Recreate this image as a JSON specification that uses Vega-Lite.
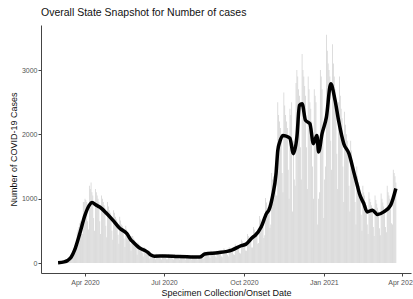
{
  "$schema": "https://vega.github.io/schema/vega-lite/v6.json",
  "autosize": "none",
  "width": 370,
  "height": 248,
  "padding": {"left": 41, "top": 25, "right": 2, "bottom": 26},
  "background": "white",
  "config": {
    "view": {"stroke": null},
    "font": "Liberation Sans",
    "axis": {"grid": false, "domainColor": "#444", "tickColor": "#444", "tickSize": 3, "labelColor": "#555", "labelFontSize": 7, "titleFontSize": 9, "titleFontWeight": "normal", "titleColor": "#111", "labelFont": "Liberation Sans", "titleFont": "Liberation Sans"}
  },
  "title": {"text": "Overall State Snapshot for Number of cases", "anchor": "start", "frame": "group", "fontSize": 10.5, "fontWeight": "normal", "color": "#111", "offset": 7, "font": "Liberation Sans"},
  "datasets": {
    "bars": [
      {"d":"2020-03-01","n":2},{"d":"2020-03-02","n":4},{"d":"2020-03-03","n":6},{"d":"2020-03-04","n":5},{"d":"2020-03-05","n":8},{"d":"2020-03-06","n":9},{"d":"2020-03-07","n":6},
      {"d":"2020-03-08","n":10},{"d":"2020-03-09","n":25},{"d":"2020-03-10","n":30},{"d":"2020-03-11","n":35},{"d":"2020-03-12","n":45},{"d":"2020-03-13","n":50},{"d":"2020-03-14","n":30},
      {"d":"2020-03-15","n":40},{"d":"2020-03-16","n":110},{"d":"2020-03-17","n":150},{"d":"2020-03-18","n":190},{"d":"2020-03-19","n":230},{"d":"2020-03-20","n":260},{"d":"2020-03-21","n":190},
      {"d":"2020-03-22","n":250},{"d":"2020-03-23","n":480},{"d":"2020-03-24","n":520},{"d":"2020-03-25","n":560},{"d":"2020-03-26","n":620},{"d":"2020-03-27","n":650},{"d":"2020-03-28","n":450},
      {"d":"2020-03-29","n":450},{"d":"2020-03-30","n":950},{"d":"2020-03-31","n":950},{"d":"2020-04-01","n":1000},{"d":"2020-04-02","n":980},{"d":"2020-04-03","n":950},{"d":"2020-04-04","n":650},
      {"d":"2020-04-05","n":520},{"d":"2020-04-06","n":1200},{"d":"2020-04-07","n":1150},{"d":"2020-04-08","n":1250},{"d":"2020-04-09","n":1100},{"d":"2020-04-10","n":1050},{"d":"2020-04-11","n":700},
      {"d":"2020-04-12","n":500},{"d":"2020-04-13","n":1150},{"d":"2020-04-14","n":1100},{"d":"2020-04-15","n":1050},{"d":"2020-04-16","n":1000},{"d":"2020-04-17","n":950},{"d":"2020-04-18","n":650},
      {"d":"2020-04-19","n":450},{"d":"2020-04-20","n":1050},{"d":"2020-04-21","n":1000},{"d":"2020-04-22","n":950},{"d":"2020-04-23","n":900},{"d":"2020-04-24","n":850},{"d":"2020-04-25","n":580},
      {"d":"2020-04-26","n":400},{"d":"2020-04-27","n":950},{"d":"2020-04-28","n":880},{"d":"2020-04-29","n":820},{"d":"2020-04-30","n":780},{"d":"2020-05-01","n":720},{"d":"2020-05-02","n":500},
      {"d":"2020-05-03","n":360},{"d":"2020-05-04","n":820},{"d":"2020-05-05","n":780},{"d":"2020-05-06","n":720},{"d":"2020-05-07","n":680},{"d":"2020-05-08","n":640},{"d":"2020-05-09","n":440},
      {"d":"2020-05-10","n":300},{"d":"2020-05-11","n":720},{"d":"2020-05-12","n":660},{"d":"2020-05-13","n":600},{"d":"2020-05-14","n":580},{"d":"2020-05-15","n":540},{"d":"2020-05-16","n":380},
      {"d":"2020-05-17","n":250},{"d":"2020-05-18","n":580},{"d":"2020-05-19","n":520},{"d":"2020-05-20","n":480},{"d":"2020-05-21","n":460},{"d":"2020-05-22","n":430},{"d":"2020-05-23","n":300},
      {"d":"2020-05-24","n":190},{"d":"2020-05-25","n":420},{"d":"2020-05-26","n":420},{"d":"2020-05-27","n":380},{"d":"2020-05-28","n":360},{"d":"2020-05-29","n":330},{"d":"2020-05-30","n":230},
      {"d":"2020-05-31","n":130},{"d":"2020-06-01","n":320},{"d":"2020-06-02","n":290},{"d":"2020-06-03","n":270},{"d":"2020-06-04","n":250},{"d":"2020-06-05","n":230},{"d":"2020-06-06","n":160},
      {"d":"2020-06-07","n":100},{"d":"2020-06-08","n":250},{"d":"2020-06-09","n":230},{"d":"2020-06-10","n":210},{"d":"2020-06-11","n":200},{"d":"2020-06-12","n":180},{"d":"2020-06-13","n":120},
      {"d":"2020-06-14","n":70},{"d":"2020-06-15","n":160},{"d":"2020-06-16","n":150},{"d":"2020-06-17","n":140},{"d":"2020-06-18","n":130},{"d":"2020-06-19","n":120},{"d":"2020-06-20","n":85},
      {"d":"2020-06-21","n":60},{"d":"2020-06-22","n":145},{"d":"2020-06-23","n":135},{"d":"2020-06-24","n":125},{"d":"2020-06-25","n":120},{"d":"2020-06-26","n":110},{"d":"2020-06-27","n":75},
      {"d":"2020-06-28","n":55},{"d":"2020-06-29","n":140},{"d":"2020-06-30","n":130},{"d":"2020-07-01","n":125},{"d":"2020-07-02","n":115},{"d":"2020-07-03","n":80},{"d":"2020-07-04","n":60},
      {"d":"2020-07-05","n":60},{"d":"2020-07-06","n":140},{"d":"2020-07-07","n":130},{"d":"2020-07-08","n":120},{"d":"2020-07-09","n":115},{"d":"2020-07-10","n":110},{"d":"2020-07-11","n":70},
      {"d":"2020-07-12","n":55},{"d":"2020-07-13","n":135},{"d":"2020-07-14","n":125},{"d":"2020-07-15","n":120},{"d":"2020-07-16","n":110},{"d":"2020-07-17","n":105},{"d":"2020-07-18","n":70},
      {"d":"2020-07-19","n":55},{"d":"2020-07-20","n":130},{"d":"2020-07-21","n":120},{"d":"2020-07-22","n":115},{"d":"2020-07-23","n":110},{"d":"2020-07-24","n":100},{"d":"2020-07-25","n":65},
      {"d":"2020-07-26","n":50},{"d":"2020-07-27","n":125},{"d":"2020-07-28","n":115},{"d":"2020-07-29","n":110},{"d":"2020-07-30","n":105},{"d":"2020-07-31","n":95},{"d":"2020-08-01","n":65},
      {"d":"2020-08-02","n":50},{"d":"2020-08-03","n":120},{"d":"2020-08-04","n":110},{"d":"2020-08-05","n":105},{"d":"2020-08-06","n":100},{"d":"2020-08-07","n":95},{"d":"2020-08-08","n":60},
      {"d":"2020-08-09","n":50},{"d":"2020-08-10","n":115},{"d":"2020-08-11","n":110},{"d":"2020-08-12","n":105},{"d":"2020-08-13","n":100},{"d":"2020-08-14","n":95},{"d":"2020-08-15","n":65},
      {"d":"2020-08-16","n":80},{"d":"2020-08-17","n":180},{"d":"2020-08-18","n":170},{"d":"2020-08-19","n":160},{"d":"2020-08-20","n":150},{"d":"2020-08-21","n":145},{"d":"2020-08-22","n":100},
      {"d":"2020-08-23","n":80},{"d":"2020-08-24","n":190},{"d":"2020-08-25","n":180},{"d":"2020-08-26","n":165},{"d":"2020-08-27","n":155},{"d":"2020-08-28","n":150},{"d":"2020-08-29","n":105},
      {"d":"2020-08-30","n":85},{"d":"2020-08-31","n":195},{"d":"2020-09-01","n":185},{"d":"2020-09-02","n":170},{"d":"2020-09-03","n":160},{"d":"2020-09-04","n":150},{"d":"2020-09-05","n":105},
      {"d":"2020-09-06","n":90},{"d":"2020-09-07","n":180},{"d":"2020-09-08","n":230},{"d":"2020-09-09","n":215},{"d":"2020-09-10","n":200},{"d":"2020-09-11","n":190},{"d":"2020-09-12","n":130},
      {"d":"2020-09-13","n":100},{"d":"2020-09-14","n":245},{"d":"2020-09-15","n":230},{"d":"2020-09-16","n":215},{"d":"2020-09-17","n":205},{"d":"2020-09-18","n":195},{"d":"2020-09-19","n":135},
      {"d":"2020-09-20","n":125},{"d":"2020-09-21","n":290},{"d":"2020-09-22","n":270},{"d":"2020-09-23","n":250},{"d":"2020-09-24","n":240},{"d":"2020-09-25","n":230},{"d":"2020-09-26","n":160},
      {"d":"2020-09-27","n":150},{"d":"2020-09-28","n":360},{"d":"2020-09-29","n":340},{"d":"2020-09-30","n":310},{"d":"2020-10-01","n":300},{"d":"2020-10-02","n":280},{"d":"2020-10-03","n":195},
      {"d":"2020-10-04","n":190},{"d":"2020-10-05","n":450},{"d":"2020-10-06","n":420},{"d":"2020-10-07","n":390},{"d":"2020-10-08","n":370},{"d":"2020-10-09","n":350},{"d":"2020-10-10","n":240},
      {"d":"2020-10-11","n":240},{"d":"2020-10-12","n":560},{"d":"2020-10-13","n":520},{"d":"2020-10-14","n":480},{"d":"2020-10-15","n":450},{"d":"2020-10-16","n":430},{"d":"2020-10-17","n":300},
      {"d":"2020-10-18","n":310},{"d":"2020-10-19","n":730},{"d":"2020-10-20","n":680},{"d":"2020-10-21","n":620},{"d":"2020-10-22","n":590},{"d":"2020-10-23","n":560},{"d":"2020-10-24","n":390},
      {"d":"2020-10-25","n":430},{"d":"2020-10-26","n":1010},{"d":"2020-10-27","n":940},{"d":"2020-10-28","n":860},{"d":"2020-10-29","n":820},{"d":"2020-10-30","n":780},{"d":"2020-10-31","n":550},
      {"d":"2020-11-01","n":600},{"d":"2020-11-02","n":1400},{"d":"2020-11-03","n":1300},{"d":"2020-11-04","n":1350},{"d":"2020-11-05","n":1400},{"d":"2020-11-06","n":1500},{"d":"2020-11-07","n":1050},
      {"d":"2020-11-08","n":1050},{"d":"2020-11-09","n":2500},{"d":"2020-11-10","n":2300},{"d":"2020-11-11","n":2200},{"d":"2020-11-12","n":2100},{"d":"2020-11-13","n":2000},{"d":"2020-11-14","n":1400},
      {"d":"2020-11-15","n":1100},{"d":"2020-11-16","n":2650},{"d":"2020-11-17","n":2450},{"d":"2020-11-18","n":2300},{"d":"2020-11-19","n":2200},{"d":"2020-11-20","n":2100},{"d":"2020-11-21","n":1450},
      {"d":"2020-11-22","n":1000},{"d":"2020-11-23","n":2400},{"d":"2020-11-24","n":2300},{"d":"2020-11-25","n":2500},{"d":"2020-11-26","n":800},{"d":"2020-11-27","n":1900},{"d":"2020-11-28","n":1300},
      {"d":"2020-11-29","n":1200},{"d":"2020-11-30","n":2800},{"d":"2020-12-01","n":3000},{"d":"2020-12-02","n":2900},{"d":"2020-12-03","n":2700},{"d":"2020-12-04","n":2600},{"d":"2020-12-05","n":1800},
      {"d":"2020-12-06","n":1300},{"d":"2020-12-07","n":3250},{"d":"2020-12-08","n":3000},{"d":"2020-12-09","n":2900},{"d":"2020-12-10","n":2750},{"d":"2020-12-11","n":2600},{"d":"2020-12-12","n":1800},
      {"d":"2020-12-13","n":1150},{"d":"2020-12-14","n":2900},{"d":"2020-12-15","n":2700},{"d":"2020-12-16","n":2500},{"d":"2020-12-17","n":2400},{"d":"2020-12-18","n":2200},{"d":"2020-12-19","n":1500},
      {"d":"2020-12-20","n":1000},{"d":"2020-12-21","n":2700},{"d":"2020-12-22","n":2600},{"d":"2020-12-23","n":2500},{"d":"2020-12-24","n":1900},{"d":"2020-12-25","n":600},{"d":"2020-12-26","n":1000},
      {"d":"2020-12-27","n":1100},{"d":"2020-12-28","n":3000},{"d":"2020-12-29","n":2900},{"d":"2020-12-30","n":2700},{"d":"2020-12-31","n":2100},{"d":"2021-01-01","n":700},{"d":"2021-01-02","n":1300},
      {"d":"2021-01-03","n":1500},{"d":"2021-01-04","n":3550},{"d":"2021-01-05","n":3300},{"d":"2021-01-06","n":3100},{"d":"2021-01-07","n":3000},{"d":"2021-01-08","n":2900},{"d":"2021-01-09","n":1900},
      {"d":"2021-01-10","n":1450},{"d":"2021-01-11","n":3400},{"d":"2021-01-12","n":3100},{"d":"2021-01-13","n":2900},{"d":"2021-01-14","n":2700},{"d":"2021-01-15","n":2500},{"d":"2021-01-16","n":1700},
      {"d":"2021-01-17","n":1150},{"d":"2021-01-18","n":2500},{"d":"2021-01-19","n":2900},{"d":"2021-01-20","n":2600},{"d":"2021-01-21","n":2400},{"d":"2021-01-22","n":2250},{"d":"2021-01-23","n":1500},
      {"d":"2021-01-24","n":950},{"d":"2021-01-25","n":2350},{"d":"2021-01-26","n":2150},{"d":"2021-01-27","n":2000},{"d":"2021-01-28","n":1900},{"d":"2021-01-29","n":1750},{"d":"2021-01-30","n":1200},
      {"d":"2021-01-31","n":800},{"d":"2021-02-01","n":1900},{"d":"2021-02-02","n":1750},{"d":"2021-02-03","n":1600},{"d":"2021-02-04","n":1500},{"d":"2021-02-05","n":1400},{"d":"2021-02-06","n":950},
      {"d":"2021-02-07","n":600},{"d":"2021-02-08","n":1500},{"d":"2021-02-09","n":1350},{"d":"2021-02-10","n":1250},{"d":"2021-02-11","n":1200},{"d":"2021-02-12","n":1100},{"d":"2021-02-13","n":750},
      {"d":"2021-02-14","n":500},{"d":"2021-02-15","n":1200},{"d":"2021-02-16","n":1100},{"d":"2021-02-17","n":1050},{"d":"2021-02-18","n":950},{"d":"2021-02-19","n":900},{"d":"2021-02-20","n":600},
      {"d":"2021-02-21","n":450},{"d":"2021-02-22","n":1100},{"d":"2021-02-23","n":1000},{"d":"2021-02-24","n":950},{"d":"2021-02-25","n":900},{"d":"2021-02-26","n":850},{"d":"2021-02-27","n":560},
      {"d":"2021-02-28","n":420},{"d":"2021-03-01","n":1050},{"d":"2021-03-02","n":980},{"d":"2021-03-03","n":920},{"d":"2021-03-04","n":860},{"d":"2021-03-05","n":800},{"d":"2021-03-06","n":540},
      {"d":"2021-03-07","n":430},{"d":"2021-03-08","n":1080},{"d":"2021-03-09","n":1000},{"d":"2021-03-10","n":940},{"d":"2021-03-11","n":880},{"d":"2021-03-12","n":830},{"d":"2021-03-13","n":560},
      {"d":"2021-03-14","n":480},{"d":"2021-03-15","n":1200},{"d":"2021-03-16","n":1100},{"d":"2021-03-17","n":1050},{"d":"2021-03-18","n":1000},{"d":"2021-03-19","n":950},{"d":"2021-03-20","n":620},
      {"d":"2021-03-21","n":600},{"d":"2021-03-22","n":1450},{"d":"2021-03-23","n":1400},{"d":"2021-03-24","n":1350},{"d":"2021-03-25","n":1250}
    ],
    "line": [
      {"d":"2020-03-01","v":5},{"d":"2020-03-08","v":18},{"d":"2020-03-12","v":40},{"d":"2020-03-16","v":90},{"d":"2020-03-20","v":200},{"d":"2020-03-26","v":460},
      {"d":"2020-04-01","v":745},{"d":"2020-04-06","v":900},{"d":"2020-04-09","v":940},{"d":"2020-04-14","v":900},{"d":"2020-04-18","v":870},{"d":"2020-04-26","v":770},
      {"d":"2020-05-03","v":667},{"d":"2020-05-11","v":540},{"d":"2020-05-19","v":460},{"d":"2020-05-24","v":357},{"d":"2020-05-26","v":330},{"d":"2020-06-01","v":253},
      {"d":"2020-06-04","v":225},{"d":"2020-06-09","v":195},{"d":"2020-06-12","v":170},{"d":"2020-06-16","v":124},{"d":"2020-06-20","v":105},{"d":"2020-07-02","v":110},
      {"d":"2020-07-17","v":100},{"d":"2020-08-01","v":95},{"d":"2020-08-11","v":92},{"d":"2020-08-17","v":140},{"d":"2020-09-01","v":160},{"d":"2020-09-17","v":200},
      {"d":"2020-09-28","v":270},{"d":"2020-10-03","v":290},{"d":"2020-10-11","v":400},{"d":"2020-10-14","v":430},{"d":"2020-10-21","v":563},{"d":"2020-10-27","v":770},
      {"d":"2020-10-30","v":830},{"d":"2020-11-03","v":1040},{"d":"2020-11-07","v":1390},{"d":"2020-11-09","v":1750},{"d":"2020-11-11","v":1870},{"d":"2020-11-15","v":1984},
      {"d":"2020-11-21","v":1958},{"d":"2020-11-23","v":1940},{"d":"2020-11-27","v":1700},{"d":"2020-12-01","v":1958},{"d":"2020-12-04","v":2450},{"d":"2020-12-07","v":2476},
      {"d":"2020-12-11","v":2217},{"d":"2020-12-16","v":2166},{"d":"2020-12-20","v":1855},{"d":"2020-12-24","v":1984},{"d":"2020-12-26","v":1726},{"d":"2020-12-30","v":2010},
      {"d":"2021-01-04","v":2268},{"d":"2021-01-09","v":2786},{"d":"2021-01-14","v":2527},{"d":"2021-01-18","v":2217},{"d":"2021-01-24","v":1855},{"d":"2021-01-30","v":1700},
      {"d":"2021-02-05","v":1390},{"d":"2021-02-09","v":1183},{"d":"2021-02-11","v":1080},{"d":"2021-02-16","v":925},{"d":"2021-02-20","v":795},{"d":"2021-02-26","v":822},
      {"d":"2021-03-04","v":755},{"d":"2021-03-11","v":795},{"d":"2021-03-19","v":900},{"d":"2021-03-25","v":1158}
    ]
  },
  "layer": [
    {
      "data": {"name": "bars"},
      "mark": {"type": "bar", "width": 0.75, "color": "#d2d2d2"},
      "encoding": {
        "x": {
          "field": "d", "type": "temporal",
          "scale": {"type": "utc", "padding": 0, "domain": [{"year": 2020, "month": 2, "date": 10, "hours": 8, "utc": true}, {"year": 2021, "month": 4, "date": 11, "hours": 10, "utc": true}]},
          "axis": {"title": "Specimen Collection/Onset Date", "format": "%b %Y", "labelPadding": 2, "titlePadding": 3, "labelFlush": false, "labelOverlap": false,
            "values": [{"year": 2020, "month": 4, "date": 1, "utc": true}, {"year": 2020, "month": 7, "date": 1, "utc": true}, {"year": 2020, "month": 10, "date": 1, "utc": true}, {"year": 2021, "month": 1, "date": 1, "utc": true}, {"year": 2021, "month": 4, "date": 1, "utc": true}]}
        },
        "y": {
          "field": "n", "type": "quantitative",
          "scale": {"domain": [-155, 3700], "nice": false},
          "axis": {"title": "Number of COVID-19 Cases", "values": [0, 1000, 2000, 3000], "format": "d", "labelPadding": 1, "titlePadding": 3}
        }
      }
    },
    {
      "data": {"name": "line"},
      "mark": {"type": "line", "color": "black", "strokeWidth": 3.5, "interpolate": "monotone"},
      "encoding": {
        "x": {"field": "d", "type": "temporal"},
        "y": {"field": "v", "type": "quantitative"}
      }
    }
  ]
}
